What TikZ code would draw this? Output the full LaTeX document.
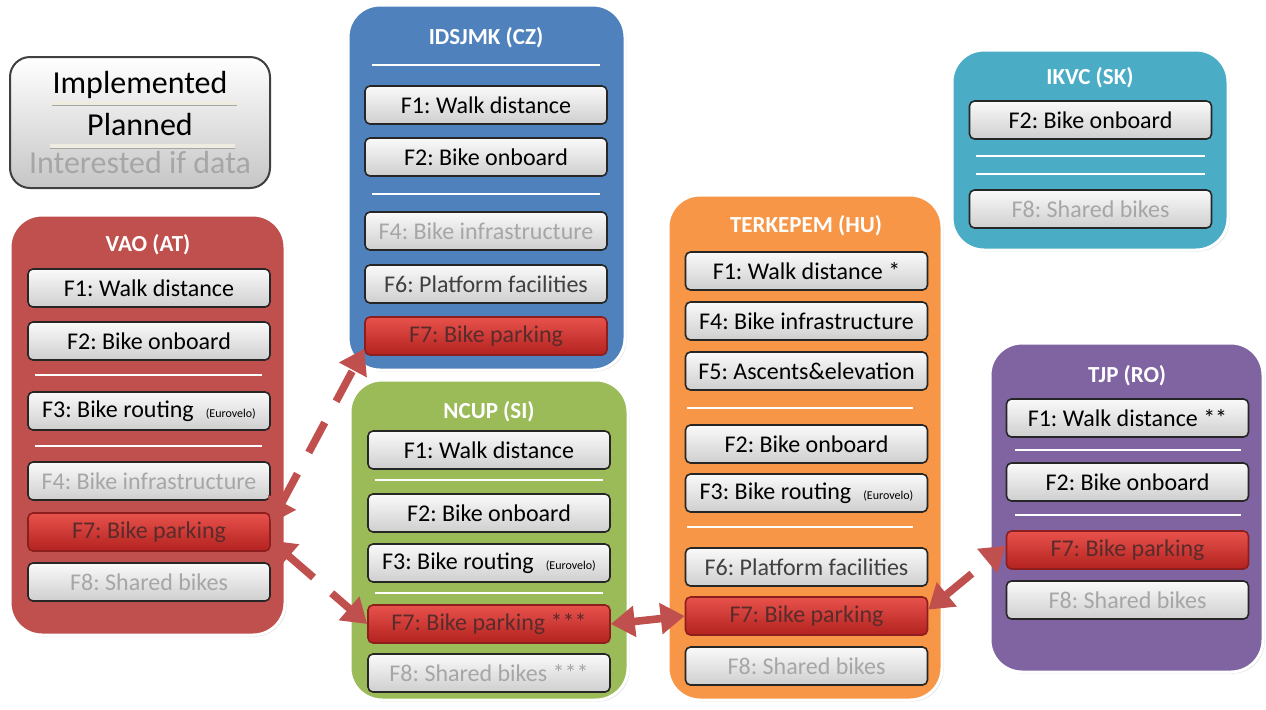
\documentclass[tikz,border=0pt]{standalone}
\usepackage{fontspec}
\setmainfont{Carlito}
\usetikzlibrary{arrows.meta,shadows}
\definecolor{vaored}{HTML}{C0504D}
\definecolor{czblue}{HTML}{4F81BD}
\definecolor{sigreen}{HTML}{9BBB59}
\definecolor{huorange}{HTML}{F79646}
\definecolor{skteal}{HTML}{4BACC6}
\definecolor{ropurple}{HTML}{8064A2}
\definecolor{dimgray}{HTML}{A6A6A6}
\definecolor{darkgray}{HTML}{404040}
\definecolor{parktop}{HTML}{E8524C}
\definecolor{parkbot}{HTML}{B3221F}
\definecolor{parkline}{HTML}{8C1E1E}
\definecolor{parktxt}{HTML}{5A2B2B}
\definecolor{legline}{HTML}{EEECE1}
\newcommand{\evnote}{{\fontsize{6}{7}\selectfont (Eurovelo)}}
\frenchspacing
\begin{document}
\begin{tikzpicture}[x=0.5pt,y=-0.5pt,
    panel/.style={rounded corners=16pt, draw=white, line width=1.5pt,
        drop shadow={opacity=0.25, shadow xshift=0.8pt, shadow yshift=-0.8pt}},
    feat/.style={rounded corners=2.5pt, draw=black!85, line width=0.8pt,
        top color=gray!4, bottom color=gray!38, minimum width=121pt,
        minimum height=19pt, inner sep=0pt, font=\fontsize{12}{14}\selectfont},
    park/.style={feat, top color=parktop, bottom color=parkbot, draw=parkline, text=parktxt},
    idata/.style={text=dimgray},
    half/.style={text=darkgray},
    ttl/.style={text=white, inner sep=0pt, font=\bfseries\fontsize{11.5}{14}\selectfont},
    legendbox/.style={rounded corners=10pt, draw=black!75, line width=1pt,
        top color=white, bottom color=gray!45, minimum width=130pt, minimum height=65.5pt},
    legtxt/.style={inner sep=0pt, font=\fontsize{16}{19}\selectfont},
    legsplit/.style={draw=legline, line width=1.6pt,
        preaction={draw=black!35, line width=1.6pt, transform canvas={yshift=-0.7pt}}},
    splitline/.style={draw=white, line width=1pt},
    link/.style={draw=vaored, line width=3.8pt,
        {Triangle[length=12pt,width=15pt]}-{Triangle[length=12pt,width=15pt]}},
    dlink/.style={link, dash pattern=on 17pt off 12pt}]
  \useasboundingbox (0,0) rectangle (1266,709);

  % legend
  \node[legendbox] (legend) at (140,122.5) {};
  \node[legtxt] (impl) at (140,85) {Implemented};
  \node[legtxt] (plan) at (140,124) {Planned};
  \node[legtxt, text=dimgray] (intr) at (140,162) {Interested if data};
  \draw[legsplit] (52,103) -- (237,103);
  \draw[legsplit] (50,146) -- (235,146);

  % VAO (AT)
  \node[panel, fill=vaored, minimum width=137.5pt, minimum height=210pt] (vao) at (147.5,425) {};
  \node[ttl] (vaoT) at (148,245) {VAO (AT)};
  \node[feat] (vaoA) at (149,288) {F1: Walk distance};
  \node[feat] (vaoB) at (149,341) {F2: Bike onboard};
  \draw[splitline] (35,375) -- (262,375);
  \node[feat] (vaoC) at (149,411) {F3: Bike routing\hspace{6pt}\evnote};
  \draw[splitline] (35,446) -- (262,446);
  \node[feat, idata] (vaoD) at (149,481) {F4: Bike infrastructure};
  \node[park] (vaoE) at (149,532) {F7: Bike parking};
  \node[feat, idata] (vaoF) at (149,582) {F8: Shared bikes};

  % IDSJMK (CZ)
  \node[panel, fill=czblue, minimum width=138.5pt, minimum height=182.5pt] (cz) at (486.5,187.5) {};
  \node[ttl] (czT) at (486,38) {IDSJMK (CZ)};
  \draw[splitline] (372,65) -- (600,65);
  \node[feat] (czA) at (486,105) {F1: Walk distance};
  \node[feat] (czB) at (486,157) {F2: Bike onboard};
  \draw[splitline] (372,194) -- (600,194);
  \node[feat, idata] (czC) at (486,231) {F4: Bike infrastructure};
  \node[feat, half] (czD) at (486,284) {F6: Platform facilities};
  \node[park] (czE) at (486,336) {F7: Bike parking};

  % NCUP (SI)
  \node[panel, fill=sigreen, minimum width=139pt, minimum height=160pt] (si) at (489,540) {};
  \node[ttl] (siT) at (489,412) {NCUP (SI)};
  \node[feat] (siA) at (489,450) {F1: Walk distance};
  \draw[splitline] (375,480) -- (603,480);
  \node[feat] (siB) at (489,513) {F2: Bike onboard};
  \node[feat] (siC) at (489,563) {F3: Bike routing\hspace{6pt}\evnote};
  \draw[splitline] (375,593) -- (603,593);
  \node[park] (siE) at (489,624) {F7: Bike parking ***};
  \node[feat, idata] (siF) at (489,673) {F8: Shared bikes ***};

  % TERKEPEM (HU)
  \node[panel, fill=huorange, minimum width=137pt, minimum height=252.5pt] (hu) at (805,447.5) {};
  \node[ttl] (huT) at (806,226) {TERKEPEM (HU)};
  \node[feat] (huA) at (806.5,271) {F1: Walk distance *};
  \node[feat] (huB) at (806.5,321) {F4: Bike infrastructure};
  \node[feat] (huC) at (806.5,371) {F5: Ascents\&elevation};
  \draw[splitline] (687,408) -- (913,408);
  \node[feat] (huD) at (806.5,444) {F2: Bike onboard};
  \node[feat] (huF) at (806.5,493) {F3: Bike routing\hspace{6pt}\evnote};
  \draw[splitline] (687,527) -- (913,527);
  \node[feat, half] (huG) at (806.5,567) {F6: Platform facilities};
  \node[park] (huE) at (806.5,616) {F7: Bike parking};
  \node[feat, idata] (huH) at (806.5,666) {F8: Shared bikes};

  % IKVC (SK)
  \node[panel, fill=skteal, minimum width=138pt, minimum height=100pt] (sk) at (1090,150) {};
  \node[ttl] (skT) at (1090,78) {IKVC (SK)};
  \node[feat] (skA) at (1090.5,120) {F2: Bike onboard};
  \draw[splitline] (976,156) -- (1205,156);
  \draw[splitline] (976,174) -- (1205,174);
  \node[feat, idata] (skB) at (1090.5,209) {F8: Shared bikes};

  % TJP (RO)
  \node[panel, fill=ropurple, minimum width=136.5pt, minimum height=164.5pt] (ro) at (1126.5,507.5) {};
  \node[ttl] (roT) at (1127,376) {TJP (RO)};
  \node[feat] (roA) at (1127.5,418) {F1: Walk distance **};
  \draw[splitline] (1015,450) -- (1241,450);
  \node[feat] (roB) at (1127.5,482) {F2: Bike onboard};
  \draw[splitline] (1015,515) -- (1241,515);
  \node[park] (roE) at (1127.5,550) {F7: Bike parking};
  \node[feat, idata] (roF) at (1127.5,600) {F8: Shared bikes};

  % links between the bike parking entries
  \draw[dlink] (vaoE.4) -- (czE.186);
  \draw[dlink] (vaoE.-4) -- (siE.west);
  \draw[link] (siE.east) -- (huE.west);
  \draw[dlink] (huE.3) -- (roE.178);
\end{tikzpicture}
\end{document}
